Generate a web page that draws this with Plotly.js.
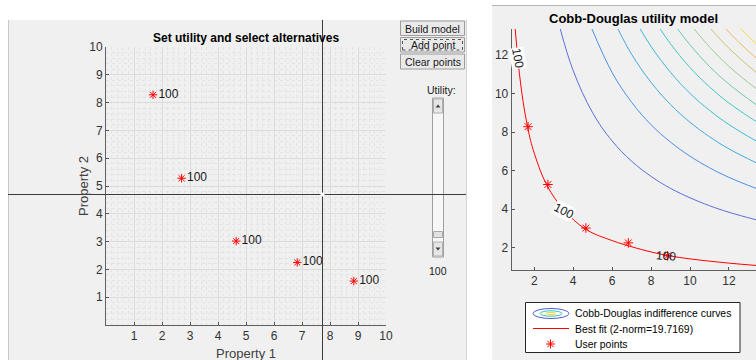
<!DOCTYPE html>
<html><head><meta charset="utf-8">
<script src="https://cdn.plot.ly/plotly-3.0.1.min.js"></script>
<style>html,body{margin:0;padding:0;background:#fff}#c{width:756px;height:360px}</style>
</head><body><div id="c"></div>
<script>
// ---- data ----
const pointX = [1.68, 2.7, 4.65, 6.83, 8.85];
const pointY = [8.28, 5.28, 3.02, 2.25, 1.58];
const pointUtility = ['100', '100', '100', '100', '100'];
const leftTicks = [1,2,3,4,5,6,7,8,9,10];
const rightTicks = [2,4,6,8,10,12];
const fitX = [1.02, 1.3, 1.66, 2, 2.67, 3.5, 4.62, 6, 7, 8, 9, 10, 12, 13.39];
const fitY = [13.35, 10.5, 8.25, 6.9, 5.2, 4.0, 2.97, 2.37, 2.05, 1.78, 1.57, 1.42, 1.2, 1.08];
const contourXs = [
  [3.335, 4, 5, 6, 7, 8, 9, 10, 11, 12, 13.39],
  [4.963, 6, 7, 8, 9, 10, 11, 12, 13.39],
  [6.299, 7, 8, 9, 10, 11, 12, 13.39],
  [7.444, 8, 9, 10, 11, 12, 13.39],
  [8.471, 9, 10, 11, 12, 13.39],
  [9.365, 10, 11, 12, 13.39],
  [10.218, 11, 12, 13.39],
  [11.075, 12, 13.39],
  [11.846, 12.5, 13.39],
  [12.616, 13, 13.39]
];
const contourYs = [
  [13.35, 11.19, 9.00, 7.54, 6.49, 5.70, 5.08, 4.59, 4.18, 3.84, 3.45],
  [13.35, 11.09, 9.55, 8.38, 7.48, 6.75, 6.15, 5.65, 5.08],
  [13.35, 12.04, 10.58, 9.43, 8.51, 7.76, 7.13, 6.41],
  [13.35, 12.44, 11.10, 10.01, 9.13, 8.39, 7.54],
  [13.35, 12.58, 11.35, 10.35, 9.51, 8.55],
  [13.35, 12.53, 11.41, 10.49, 9.43],
  [13.35, 12.42, 11.41, 10.26],
  [13.35, 12.35, 11.10],
  [13.35, 12.67, 11.85],
  [13.35, 12.97, 12.60]
];
const contourColors = ['#5a6ed8','#4a8fe6','#42a8e6','#38bcd8','#44c4c4','#6cc8ac','#9ccb90','#c8c274','#f0b860','#f2dc30'];
const fitLabel = 'Best fit (2-norm=19.7169)';

// ---- helpers (pixel -> paper) ----
const W = 756, H = 360;
const px = x => x / W, py = y => 1 - y / H;
const FONT = 'Liberation Sans, Arial, sans-serif';
const shapes = [], ann = [];
function rect(x0, y0, x1, y1, fill, line, layer, dash) {
  shapes.push({type:'rect', xref:'paper', yref:'paper', x0:px(x0), x1:px(x1), y0:py(y1), y1:py(y0),
    fillcolor: fill || 'rgba(0,0,0,0)', line:{color: line || 'rgba(0,0,0,0)', width: line ? 1 : 0, dash: dash || 'solid'},
    layer: layer || 'above'});
}
function seg(x0, y0, x1, y1, color, width, layer) {
  shapes.push({type:'line', xref:'paper', yref:'paper', x0:px(x0), x1:px(x1), y0:py(y0), y1:py(y1),
    line:{color, width: width || 1}, layer: layer || 'above'});
}
function ell(x0, y0, x1, y1, color) {
  shapes.push({type:'circle', xref:'paper', yref:'paper', x0:px(x0), x1:px(x1), y0:py(y1), y1:py(y0),
    line:{color, width:1}, layer:'above'});
}
function tri(cx, cy, up) {
  const s = 2.5;
  const p = up
    ? `M${px(cx-s)},${py(cy+1.5)} L${px(cx+s)},${py(cy+1.5)} L${px(cx)},${py(cy-1.5)} Z`
    : `M${px(cx-s)},${py(cy-1.5)} L${px(cx+s)},${py(cy-1.5)} L${px(cx)},${py(cy+1.5)} Z`;
  shapes.push({type:'path', xref:'paper', yref:'paper', path:p, fillcolor:'#404040', line:{width:0}, layer:'above'});
}
function text(x, y, t, size, opts) {
  ann.push(Object.assign({xref:'paper', yref:'paper', x:px(x), y:py(y), text:t, showarrow:false,
    font:{family:FONT, size:size, color:'#262626'}, xanchor:'center', yanchor:'middle'}, opts || {}));
}

// ---- panels ----
rect(8, 20, 466.5, 360, '#f0f0f0', null, 'below');
seg(8.5, 20, 8.5, 360, '#c8c8c8', 1, 'below');
seg(466.5, 20, 466.5, 360, '#d4d4d4', 1, 'below');
rect(492, 5, 756, 360, '#f0f0f0', null, 'below');
seg(492, 5.5, 756, 5.5, '#b4b4b4', 1, 'below');

// buttons
const btns = [['Build model', 21, 35.5], ['Add point', 37.5, 52], ['Clear points', 54, 69]];
btns.forEach(b => {
  rect(400.5, b[1], 464.5, b[2], '#e9e9e9', '#9c9c9c');
  text(432.5, (b[1] + b[2]) / 2 + 0.5, b[0], 10.5, {font:{family:FONT, size:10.5, color:'#1a1a1a'}});
});
rect(402.5, 39.5, 462.5, 50, null, '#555555', 'above', 'dot');

// slider
text(441.5, 90, 'Utility:', 10.5, {font:{family:FONT, size:10.5, color:'#1a1a1a'}});
rect(432.5, 98, 443.5, 257, '#f7f7f7', '#a0a0a0');
rect(433.5, 99, 442.5, 113, '#e6e6e6', '#b0b0b0');
rect(433.5, 242, 442.5, 256, '#e6e6e6', '#b0b0b0');
rect(433.5, 231.5, 442.5, 237.5, '#e2e2e2', '#a8a8a8');
tri(438, 106, true); tri(438, 249, false);
text(438, 271, '100', 10.5, {font:{family:FONT, size:10.5, color:'#1a1a1a'}});

// crosshair
seg(8, 194.5, 466, 194.5, '#3c3c3c', 1);
seg(322.5, 20, 322.5, 360, '#3c3c3c', 1);
shapes.push({type:'circle', xref:'paper', yref:'paper', x0:px(320.5), x1:px(324.5), y0:py(196.5), y1:py(192.5), fillcolor:'#ffffff', line:{width:0}, layer:'above'});

// titles & axis titles
text(246, 38, '<b>Set utility and select alternatives</b>', 12, {font:{family:FONT, size:12, color:'#000'}});
text(246, 353, 'Property 1', 13, {font:{family:FONT, size:13, color:'#404040'}});
text(83, 186, 'Property 2', 13, {font:{family:FONT, size:13, color:'#404040'}, textangle:-90});
text(633, 18, '<b>Cobb-Douglas utility model</b>', 13, {font:{family:FONT, size:13, color:'#000'}});

// contour labels on the fitted curve
text(517.3, 58.5, '100', 12, {textangle:80, font:{family:FONT, size:12, color:'#1a1a1a'}, bgcolor:'#ffffff', borderpad:0});
text(564, 210.5, '100', 12, {textangle:27, font:{family:FONT, size:12, color:'#1a1a1a'}, bgcolor:'#ffffff', borderpad:0});
text(666, 256, '100', 12, {textangle:4, font:{family:FONT, size:12, color:'#1a1a1a'}, borderpad:0});

// legend
rect(525.5, 302.5, 740, 352.5, '#ffffff', '#262626');
ell(533, 308.5, 569, 318.5, '#4e5ec8');
ell(540, 310.8, 562, 316.2, '#33c0be');
ell(546, 312.4, 556, 314.6, '#e8d838');
seg(533, 328.5, 569, 328.5, '#ff0000', 1);
[[0,4.5],[4.5,0],[3.2,3.2],[3.2,-3.2]].forEach(d => seg(550.5-d[0], 344-d[1], 550.5+d[0], 344+d[1], '#ff0000', 1));
const LF = 10.4;
text(572.5, 313.5, 'Cobb-Douglas indifference curves', LF, {xanchor:'left', font:{family:FONT, size:LF, color:'#000'}});
text(572.5, 329, fitLabel, LF, {xanchor:'left', font:{family:FONT, size:LF, color:'#000'}});
text(572.5, 344.5, 'User points', LF, {xanchor:'left', font:{family:FONT, size:LF, color:'#000'}});

// ---- traces ----
const traces = [];
traces.push({x:pointX, y:pointY, text:pointUtility, mode:'markers+text', textposition:'middle right',
  xaxis:'x', yaxis:'y', marker:{symbol:'asterisk-open', size:7, color:'#ff0000', line:{color:'#ff2a2a', width:1}},
  textfont:{family:FONT, size:12, color:'#1a1a1a'}, cliponaxis:false, hoverinfo:'skip'});
contourXs.forEach((cx, i) => traces.push({x:cx, y:contourYs[i], mode:'lines', xaxis:'x2', yaxis:'y2',
  line:{color:contourColors[i], width:1, shape:'spline', smoothing:1.1}, hoverinfo:'skip'}));
traces.push({x:fitX, y:fitY, mode:'lines', xaxis:'x2', yaxis:'y2', name:fitLabel,
  line:{color:'#ff0000', width:1, shape:'spline', smoothing:1.1}, hoverinfo:'skip'});
traces.push({x:pointX, y:pointY, mode:'markers', xaxis:'x2', yaxis:'y2', name:'User points',
  marker:{symbol:'asterisk-open', size:8, color:'#ff0000', line:{color:'#ff2a2a', width:1}}, hoverinfo:'skip'});

const axBase = {ticks:'inside', ticklen:3, tickcolor:'#555', showline:true, linecolor:'#606060', linewidth:1,
  mirror:false, zeroline:false, fixedrange:true, tickfont:{family:FONT, size:12, color:'#333'}};
const minorGrid = {dtick:0.2, tick0:0, showgrid:true, gridcolor:'#e4e4e4', gridwidth:1, griddash:'dot', ticks:''};
const layout = {
  width:W, height:H, margin:{l:0, r:0, t:0, b:0}, paper_bgcolor:'#ffffff', plot_bgcolor:'#ffffff',
  showlegend:false, shapes, annotations:ann,
  xaxis: Object.assign({}, axBase, {domain:[106/W, 386/W], range:[0,10], tickvals:leftTicks, anchor:'y',
    showgrid:true, gridcolor:'#dcdcdc', minor:minorGrid}),
  yaxis: Object.assign({}, axBase, {domain:[1-325/H, 1-47/H], range:[0,10], tickvals:leftTicks, anchor:'x',
    showgrid:true, gridcolor:'#dcdcdc', minor:minorGrid}),
  xaxis2: Object.assign({}, axBase, {domain:[511.7/W, 1], range:[0.84, 13.39], tickvals:rightTicks, anchor:'y2', showgrid:false}),
  yaxis2: Object.assign({}, axBase, {domain:[1-270/H, 1-29/H], range:[0.843, 13.35], tickvals:rightTicks, anchor:'x2', showgrid:false})
};
Plotly.newPlot('c', traces, layout, {staticPlot:true, displayModeBar:false});
</script></body></html>
